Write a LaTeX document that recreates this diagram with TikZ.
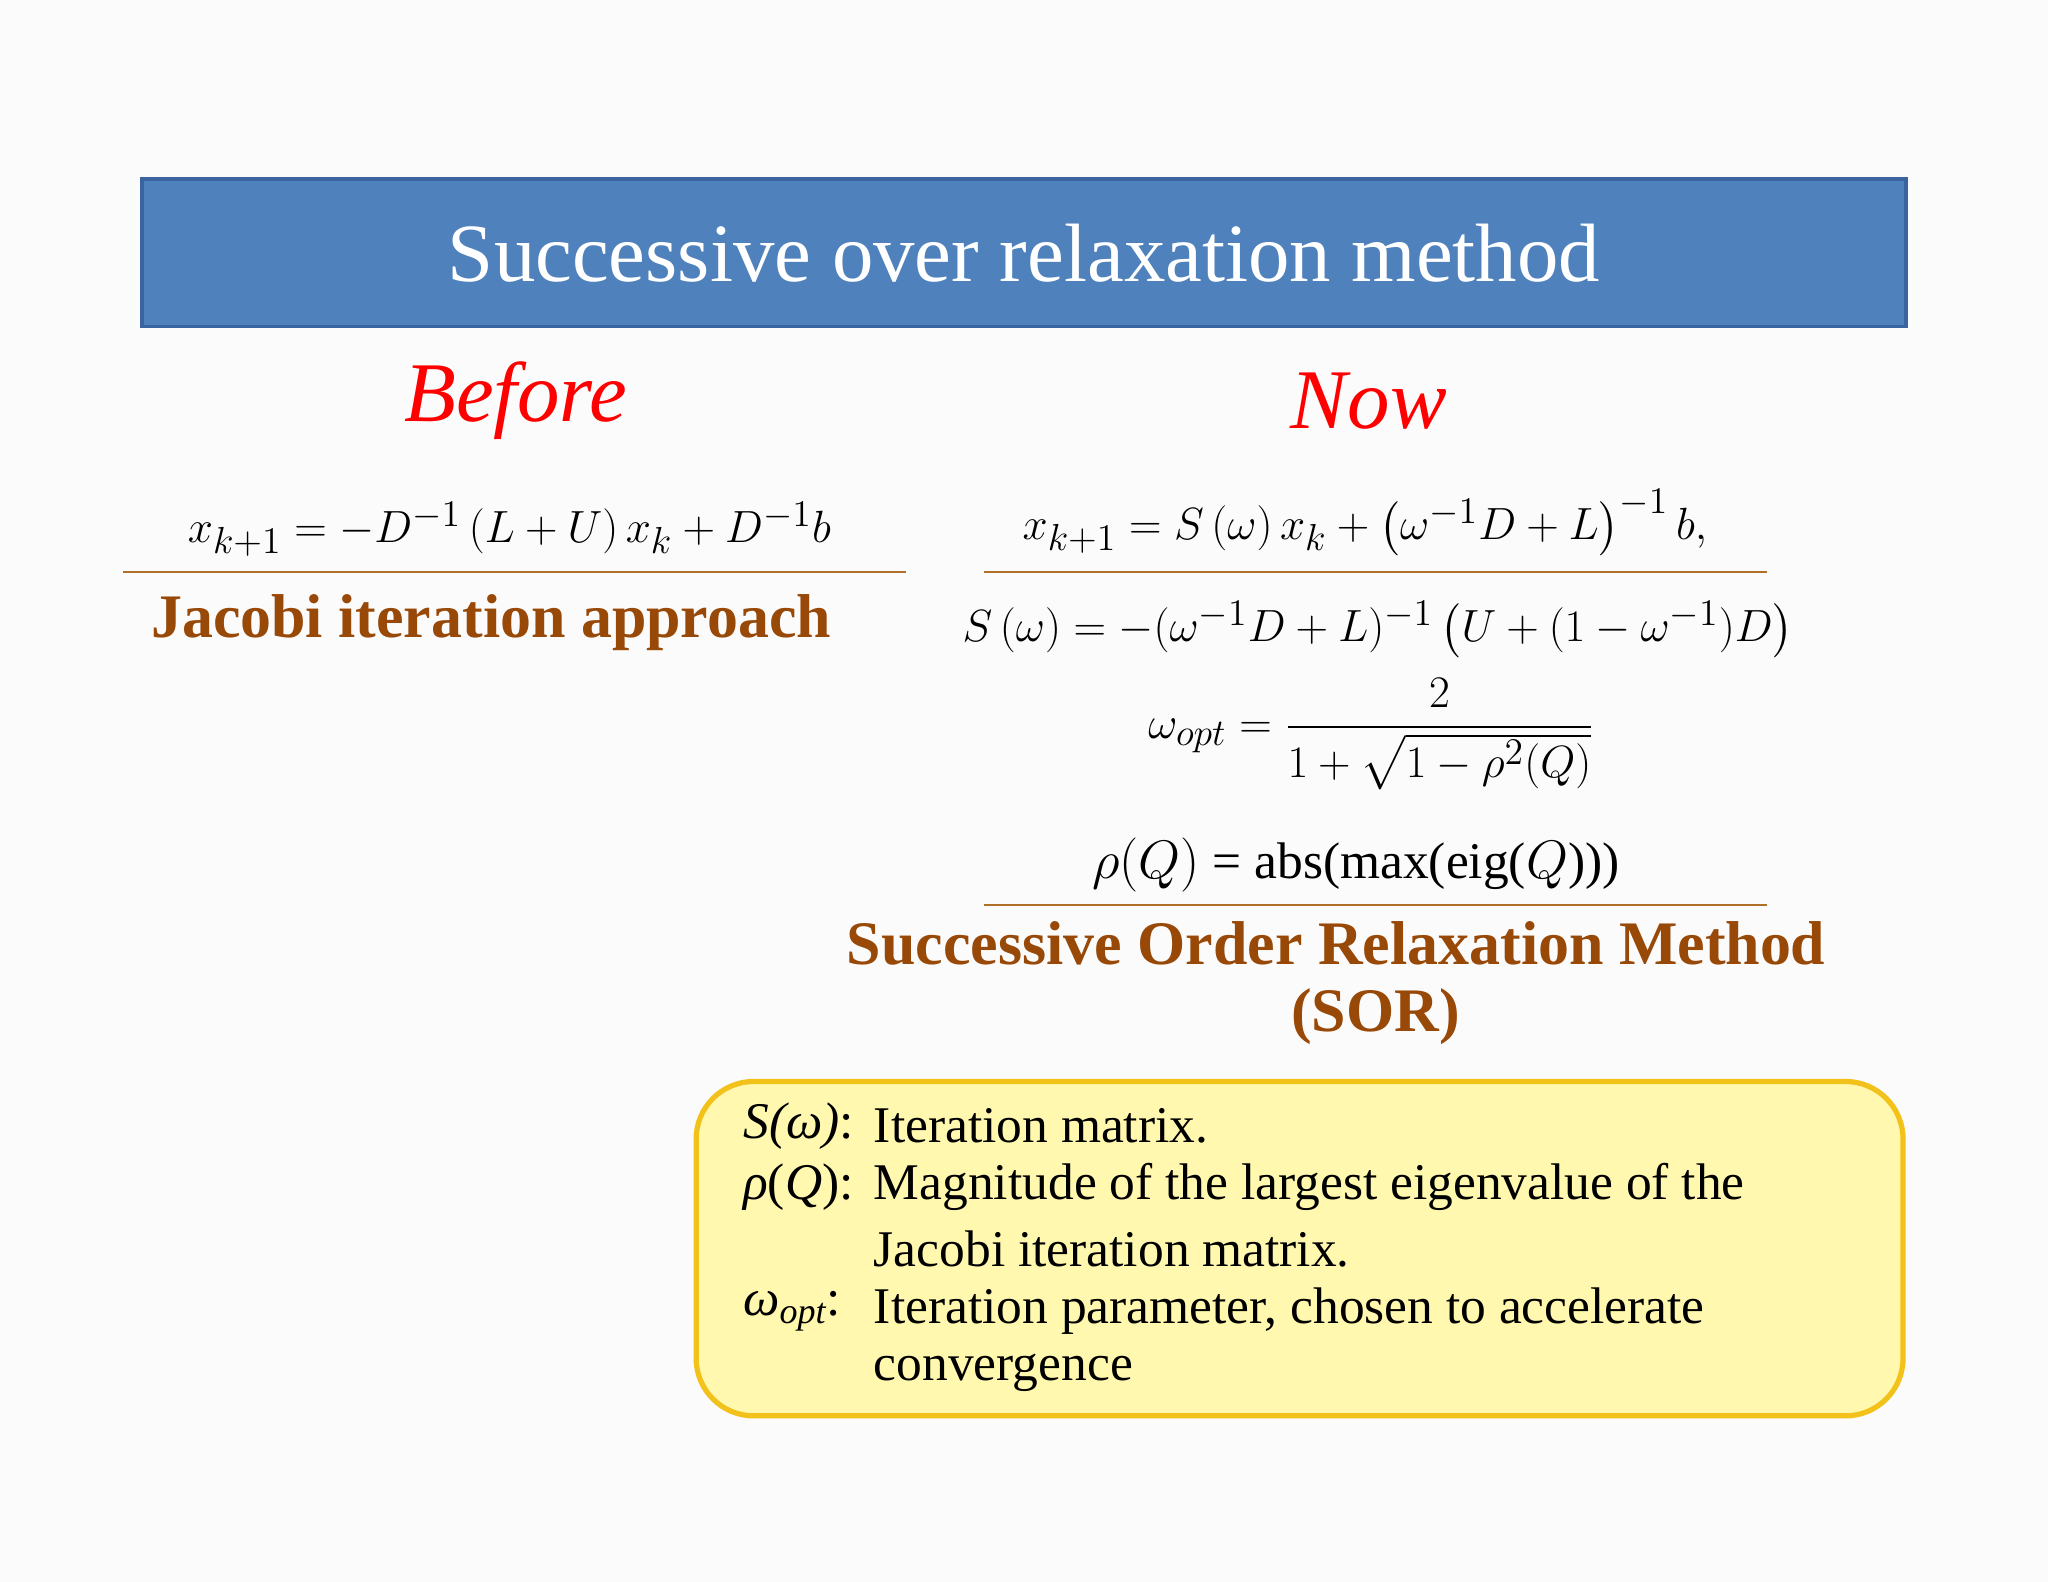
\documentclass[tikz,border=0pt]{standalone}
\usepackage{amsmath}
\usepackage{fontspec}
\setmainfont{Liberation Serif}
\definecolor{barblue}{HTML}{4F81BD}
\definecolor{baredge}{HTML}{3A64A0}
\definecolor{brownt}{HTML}{984807}
\definecolor{rulec}{HTML}{B0702A}
\definecolor{boxfill}{HTML}{FFF8AE}
\definecolor{boxedge}{HTML}{F2C21A}
\tikzset{
  hdr/.style={text=red, font=\fontsize{32.5}{38}\selectfont\itshape},
  captext/.style={text=brownt, font=\fontsize{23.7}{27}\selectfont\bfseries},
  eqn/.style={font=\fontsize{19}{22}\selectfont},
  rul/.style={rulec, line width=0.9pt},
  bt/.style={anchor=west, font=\fontsize{19.7}{22}\selectfont}
}
\begin{document}
\begin{tikzpicture}[x=0.5pt,y=-0.5pt]
\useasboundingbox (0,0) rectangle (1568,1211);
\fill[white!97!gray] (0,0) rectangle (1568,1211);
\node[draw=baredge, line width=1.5pt, fill=barblue, minimum width=675pt, minimum height=56.5pt, text=white, font=\fontsize{31.7}{36}\selectfont] (title) at (784,193.5) {Successive over relaxation method};
\node[hdr] (before) at (395,307) {Before};
\node[hdr] (now) at (1048,307) {Now};
\node[eqn] (jac) at (390,405) {$x_{k+1}=-D^{-1}\left(L+U\right)x_k+D^{-1}b$};
\draw[rul] (94,438) -- (694,438);
\node[captext] (jcap) at (376,477) {Jacobi iteration approach};
\node[eqn] (sor1) at (1045,400) {$x_{k+1}=S\left(\omega\right)x_k+\left(\omega^{-1}D+L\right)^{-1}b,$};
\draw[rul] (753,438) -- (1353,438);
\node[eqn] (sor2) at (1055,482) {$S\left(\omega\right)=-(\omega^{-1}D+L)^{-1}\left(U+(1-\omega^{-1})D\right)$};
\node[eqn] (sor3) at (1050,562) {$\omega_{opt}=\dfrac{2}{1+\sqrt{1-\rho^{2}(Q)}}$};
\node[font=\fontsize{19.7}{22}\selectfont] (rho) at (1038,662) {$\rho(Q)$ = abs(max(eig($Q$)))};
\draw[rul] (753,693) -- (1353,693);
\node[captext] (scap1) at (1023,722) {Successive Order Relaxation Method};
\node[captext] (scap2) at (1053,778) {(SOR)};
\draw[boxedge, fill=boxfill, line width=2pt, rounded corners=22pt] (533,828) rectangle (1457,1084);
\node[bt] (l1) at (562,862) {\textit{S(ω)}:};
\node[bt] (t1) at (662,862) {Iteration matrix.};
\node[bt] (l2) at (562,909) {\textit{ρ}(\textit{Q}):};
\node[bt] (t2) at (662,909) {Magnitude of the largest eigenvalue of the};
\node[bt] (t3) at (662,956) {Jacobi iteration matrix.};
\node[bt] (l4) at (562,1004) {\textit{ω\textsubscript{opt}}:};
\node[bt] (t4) at (662,1004) {Iteration parameter, chosen to accelerate};
\node[bt] (t5) at (662,1051) {convergence};
\end{tikzpicture}
\end{document}
